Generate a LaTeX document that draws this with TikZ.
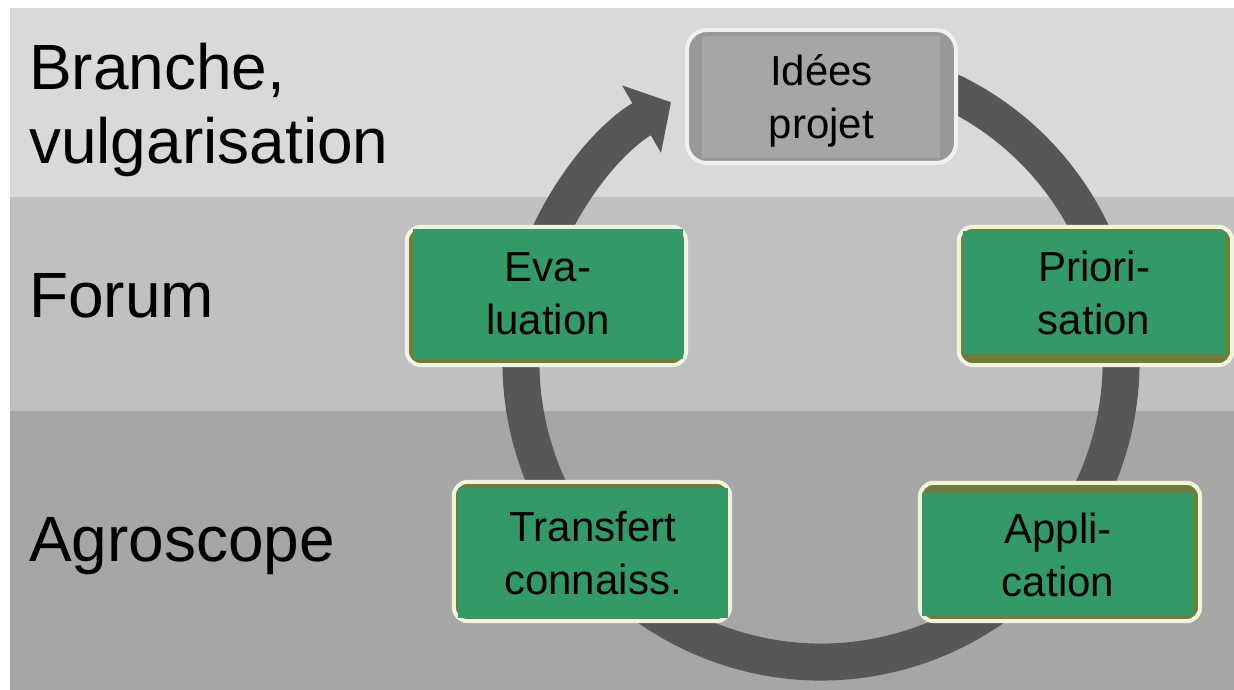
\documentclass[tikz,border=0pt]{standalone}
\usepackage{fontspec}
\setmainfont{Liberation Sans}
\usepackage{xcolor}
\usepackage{tikz}
\usetikzlibrary{arrows.meta,backgrounds}

\definecolor{bandtop}{HTML}{D9D9D9}
\definecolor{bandmid}{HTML}{C0C0C0}
\definecolor{bandlow}{HTML}{A6A6A6}
\definecolor{ringgray}{HTML}{575757}
\definecolor{phasegreen}{HTML}{339966}
\definecolor{frameolive}{HTML}{6E7D3C}
\definecolor{framecream}{HTML}{F1F4DC}
\definecolor{ideasdark}{HTML}{989898}
\definecolor{ideaslight}{HTML}{A6A6A6}
\definecolor{ideasrim}{HTML}{F0F0F0}

\begin{document}
\begin{tikzpicture}[
  x=1pt,y=1pt,
  band/.style={inner sep=0pt,align=left,font=\fontsize{64}{74}\selectfont},
  phase/.style={fill=phasegreen,inner sep=0pt,align=center,
                font=\fontsize{42}{53}\selectfont},
  start/.style={draw=ideasrim,line width=4pt,fill=ideasdark,rounded corners=20pt,
                minimum width=269pt,minimum height=133pt,inner sep=0pt,
                align=center,text depth=0pt,font=\fontsize{42}{53}\selectfont,
                path picture={\fill[ideaslight,sharp corners]
                  ([shift={(15pt,5pt)}]path picture bounding box.south west) rectangle
                  ([shift={(-16pt,-6pt)}]path picture bounding box.north east);}},
  frame/.style={draw=framecream,line width=4pt,fill=frameolive,rounded corners=14pt},
  ring/.style={draw=ringgray,line width=37pt,-{Triangle[length=34pt,width=76pt]}}
]
\useasboundingbox (0,0) rectangle (1234,690);

% row labels
\node[band,anchor=west] (branche) at (29,580) {Branche,\\vulgarisation};
\node[band,anchor=base west] (forum) at (29,372) {Forum};
\node[band,anchor=base west] (agro) at (29,128) {Agroscope};

% steps of the cycle
\node[start] (ideas) at (821.5,593.5) {Idées\\projet};
\node[phase,minimum width=262pt,minimum height=123pt] (prio) at (1094,397.5) {Priori-\\sation};
\node[phase,minimum width=272pt,minimum height=123pt] (appl) at (1058,135.5) {Appli-\\cation};
\node[phase,minimum width=270pt,minimum height=130pt] (trans) at (593,137) {Transfert\\connaiss.};
\node[phase,minimum width=270pt,minimum height=130pt] (eval) at (548,396) {Eva-\\luation};

\coordinate (hub) at (821,328);

\begin{scope}[on background layer]
  \fill[white] (0,0) rectangle (1234,690);
  \fill[bandtop] (10,493) rectangle (1234,682);
  \fill[bandmid] (10,279) rectangle (1234,493);
  \fill[bandlow] (10,0) rectangle (1234,279);
  % the loop, clockwise back into the ideas box
  \draw[ring] ([shift={(70:300)}]hub) arc[start angle=70,end angle=-240,radius=300];
  % rims behind the green steps
  \foreach \n/\l/\r/\t/\b in {eval/6/3/2/6,prio/4/7/4/11,trans/4/2/6/3,appl/2/6/10/5}
    \draw[frame] ([shift={(-\l,-\b)}]\n.south west) rectangle ([shift={(\r,\t)}]\n.north east);
\end{scope}
\end{tikzpicture}
\end{document}
